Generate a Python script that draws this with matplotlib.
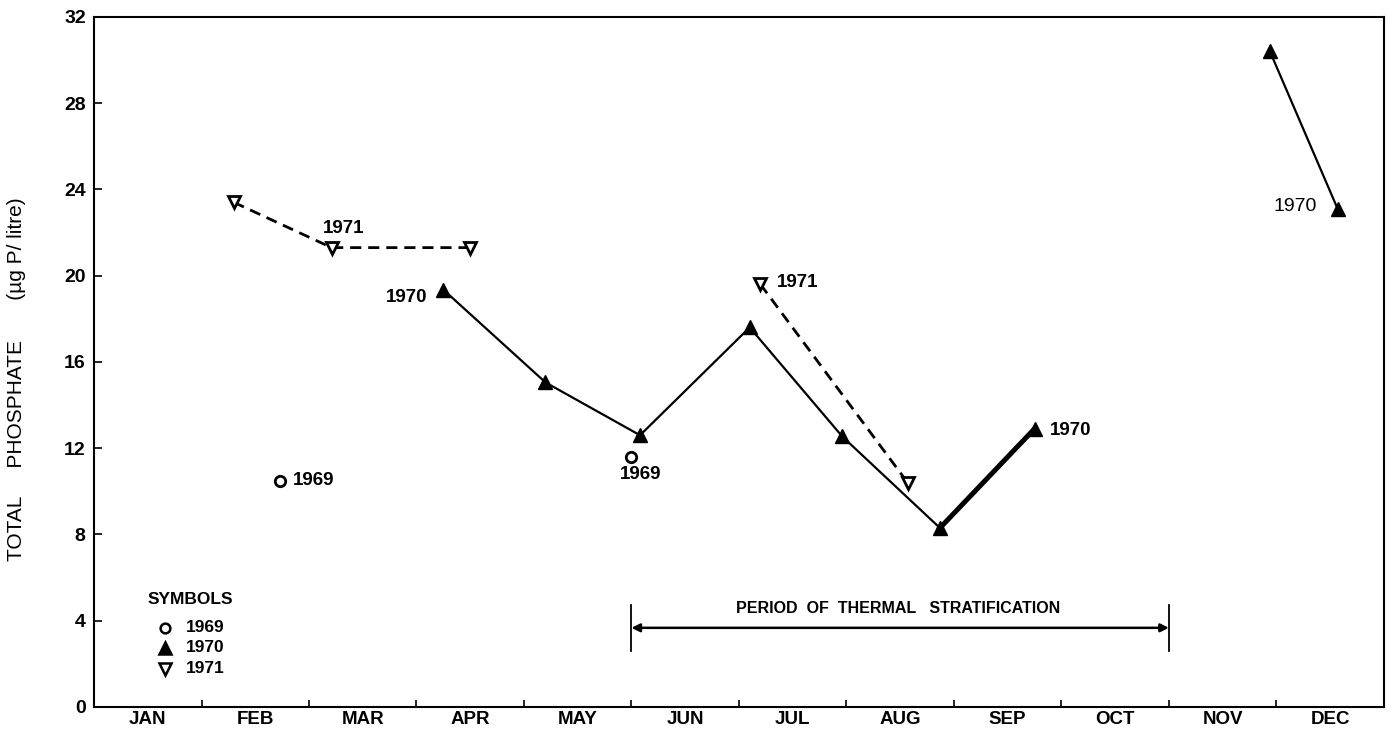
import matplotlib
matplotlib.use("Agg")
import matplotlib.pyplot as plt
import numpy as np

plt.rcParams['font.family'] = ['Liberation Sans', 'DejaVu Sans']

# month position (0 = start of Jan, 12 = end of Dec) and total phosphate (ug P / litre)
month_labels = ['JAN', 'FEB', 'MAR', 'APR', 'MAY', 'JUN',
                'JUL', 'AUG', 'SEP', 'OCT', 'NOV', 'DEC']

t_1969 = [1.73, 5.00]
p_1969 = [10.5, 11.6]

# 1970, spring-summer run
t_1970 = [3.25, 4.20, 5.08, 6.10, 6.96, 7.87, 8.75]
p_1970 = [19.35, 15.05, 12.6, 17.6, 12.55, 8.3, 12.9]
# 1970, december pair
t_1970_dec = [10.94, 11.57]
p_1970_dec = [30.4, 23.1]

t_1971a = [1.30, 2.21, 3.50]
p_1971a = [23.4, 21.3, 21.3]
t_1971b = [6.20, 7.57]
p_1971b = [19.6, 10.4]

strat_start, strat_end = 5.0, 10.0

fig = plt.figure(figsize=(13.95, 7.33), dpi=100)
ax = fig.add_axes([0.0674, 0.0355, 0.9246, 0.9415])

k = 'black'
# 1971 dashed lines
ax.plot(t_1971a, p_1971a, color=k, lw=2.0, ls=(0, (4, 2.5)), zorder=2)
ax.plot(t_1971b, p_1971b, color=k, lw=2.0, ls=(0, (4, 2.5)), zorder=2)
ax.plot(t_1971a + t_1971b, p_1971a + p_1971b, ls='none', marker='v', ms=9,
        mfc='white', mec=k, mew=2.0, zorder=4)

# 1970 solid lines (last segment heavier)
ax.plot(t_1970[:-1], p_1970[:-1], color=k, lw=1.6, zorder=2)
ax.plot(t_1970[-2:], p_1970[-2:], color=k, lw=3.6, zorder=2)
ax.plot(t_1970_dec, p_1970_dec, color=k, lw=1.6, zorder=2)
ax.plot(t_1970 + t_1970_dec, p_1970 + p_1970_dec, ls='none', marker='^', ms=10,
        color=k, zorder=4)

# 1969 open circles
ax.plot(t_1969, p_1969, ls='none', marker='o', ms=7.5, mfc='white', mec=k,
        mew=2.0, zorder=4)

lab = dict(fontsize=13.5, fontweight='bold', color=k)
ax.text(2.13, 22.2, '1971', ha='left', va='center', **lab)
ax.text(3.10, 19.0, '1970', ha='right', va='center', **lab)
ax.text(1.85, 10.5, '1969', ha='left', va='center', **lab)
ax.text(5.09, 10.8, '1969', ha='center', va='center', **lab)
ax.text(6.35, 19.7, '1971', ha='left', va='center', **lab)
ax.text(8.89, 12.8, '1970', ha='left', va='center', **lab)
ax.text(11.38, 23.2, '1970', ha='right', va='center', fontsize=14, color=k)

# period of thermal stratification
ax.plot([strat_start, strat_start], [2.6, 4.75], color=k, lw=1.3)
ax.plot([strat_end, strat_end], [2.6, 4.75], color=k, lw=1.3)
ax.annotate('', xy=(strat_start, 3.67), xytext=(strat_end, 3.67),
            arrowprops=dict(arrowstyle='<|-|>', color=k, lw=1.8,
                            mutation_scale=12, shrinkA=0, shrinkB=0))
ax.text((strat_start + strat_end) / 2 - 0.02, 4.55,
        'PERIOD  OF  THERMAL   STRATIFICATION',
        ha='center', va='center', fontsize=11.5, fontweight='bold')

# symbols key
ax.text(0.50, 5.0, 'SYMBOLS', ha='left', va='center', fontsize=12.5, fontweight='bold')
key = [('o', 'white', 7, '1969', 3.67), ('^', k, 9, '1970', 2.74), ('v', 'white', 9, '1971', 1.77)]
for mk, fc, sz, txt, yy in key:
    ax.plot([0.66], [yy], ls='none', marker=mk, ms=sz, mfc=fc, mec=k, mew=1.8)
    ax.text(0.85, yy, txt, ha='left', va='center', fontsize=12.5, fontweight='bold')

ax.set_xlim(0, 12)
ax.set_ylim(0, 32)
ax.set_yticks(np.arange(0, 33, 4))
ax.set_yticklabels([str(v) for v in range(0, 33, 4)], fontsize=14, fontweight='bold')
ax.set_xticks(np.arange(1, 12))
ax.set_xticklabels([])
ax.set_xticks(np.arange(12) + 0.5, minor=True)
ax.set_xticklabels(month_labels, minor=True, fontsize=13.5, fontweight='bold')
ax.tick_params(axis='x', which='major', direction='in', length=5, width=1.2)
ax.tick_params(axis='x', which='minor', length=0, pad=3)
ax.tick_params(axis='y', direction='in', length=6, width=1.2, pad=6)

ax.set_ylabel('TOTAL     PHOSPHATE       (\u00b5g P/ litre)', fontsize=15)
ax.yaxis.set_label_coords(-0.053, 0.475)

for s in ax.spines.values():
    s.set_linewidth(1.5)

fig.savefig('out.png', dpi=100)
